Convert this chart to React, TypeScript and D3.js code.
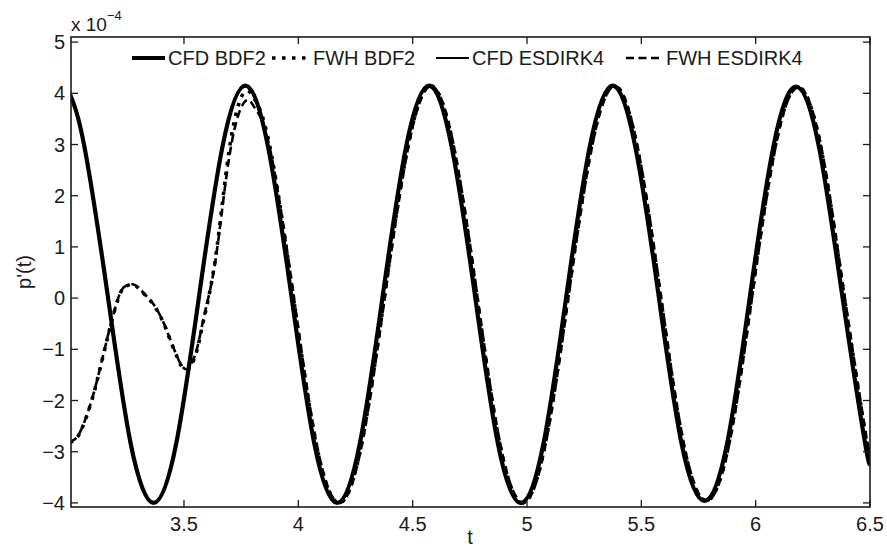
import React from 'react';
import * as d3 from 'd3';

const X_TICKS = [3.5, 4, 4.5, 5, 5.5, 6, 6.5];
const Y_TICKS = [-4, -3, -2, -1, 0, 1, 2, 3, 4, 5];

const CFD_T = [3.000, 3.065, 3.166, 3.266, 3.367, 3.467, 3.567, 3.668, 3.768, 3.868, 3.969, 4.069, 4.170, 4.270, 4.370, 4.471, 4.571, 4.671, 4.772, 4.872, 4.973, 5.073, 5.173, 5.274, 5.374, 5.474, 5.575, 5.675, 5.776, 5.876, 5.976, 6.077, 6.177, 6.277, 6.378, 6.478, 6.500];
const CFD_BDF2 = [4.00, 2.95, 0.07, -2.82, -4.00, -2.82, 0.07, 2.95, 4.15, 2.95, 0.07, -2.82, -4.00, -2.82, 0.07, 2.95, 4.15, 2.95, 0.07, -2.82, -4.00, -2.82, 0.07, 2.95, 4.15, 2.95, 0.07, -2.82, -3.96, -2.82, 0.07, 2.95, 4.13, 2.95, 0.07, -2.82, -3.15];
const CFD_ESDIRK4 = [3.99, 2.94, 0.06, -2.81, -3.99, -2.81, 0.06, 2.94, 4.13, 2.94, 0.06, -2.81, -3.99, -2.81, 0.06, 2.94, 4.13, 2.94, 0.06, -2.81, -3.99, -2.81, 0.06, 2.94, 4.13, 2.94, 0.06, -2.81, -3.95, -2.81, 0.06, 2.94, 4.12, 2.94, 0.06, -2.81, -3.12];

const FWH_BDF2_T = [3.000, 3.030, 3.060, 3.100, 3.140, 3.180, 3.220, 3.250, 3.275, 3.300, 3.330, 3.370, 3.410, 3.440, 3.470, 3.490, 3.510, 3.530, 3.555, 3.580, 3.600, 3.630, 3.660, 3.690, 3.720, 3.750, 3.778, 3.810, 3.876, 3.977, 4.077, 4.178, 4.278, 4.378, 4.479, 4.579, 4.679, 4.780, 4.880, 4.981, 5.081, 5.181, 5.282, 5.382, 5.482, 5.583, 5.683, 5.784, 5.884, 5.984, 6.085, 6.185, 6.285, 6.386, 6.486, 6.500];
const FWH_BDF2 = [-2.82, -2.74, -2.48, -1.95, -1.25, -0.52, 0.08, 0.24, 0.27, 0.20, 0.06, -0.15, -0.48, -0.82, -1.15, -1.33, -1.40, -1.32, -1.05, -0.55, -0.15, 0.55, 1.55, 2.65, 3.45, 3.92, 4.05, 3.88, 2.95, 0.07, -2.82, -4.00, -2.82, 0.07, 2.95, 4.15, 2.95, 0.07, -2.82, -4.00, -2.82, 0.07, 2.95, 4.15, 2.95, 0.07, -2.82, -3.96, -2.82, 0.07, 2.95, 4.13, 2.95, 0.07, -2.82, -3.00];

const FWH_ESDIRK4_T = [3.000, 3.030, 3.060, 3.100, 3.140, 3.180, 3.220, 3.250, 3.275, 3.300, 3.330, 3.370, 3.410, 3.440, 3.470, 3.490, 3.510, 3.530, 3.555, 3.580, 3.600, 3.630, 3.660, 3.690, 3.720, 3.750, 3.782, 3.815, 3.878, 3.979, 4.079, 4.180, 4.280, 4.380, 4.481, 4.581, 4.681, 4.782, 4.882, 4.983, 5.083, 5.183, 5.284, 5.384, 5.484, 5.585, 5.685, 5.786, 5.886, 5.986, 6.087, 6.187, 6.287, 6.388, 6.488, 6.500];
const FWH_ESDIRK4 = [-2.81, -2.73, -2.47, -1.94, -1.24, -0.51, 0.09, 0.25, 0.27, 0.21, 0.07, -0.14, -0.47, -0.81, -1.14, -1.32, -1.39, -1.30, -1.02, -0.52, -0.12, 0.52, 1.48, 2.52, 3.28, 3.72, 3.87, 3.68, 2.88, 0.07, -2.82, -4.00, -2.82, 0.07, 2.95, 4.14, 2.95, 0.07, -2.82, -4.00, -2.82, 0.07, 2.95, 4.14, 2.95, 0.07, -2.82, -3.96, -2.82, 0.07, 2.95, 4.12, 2.95, 0.07, -2.82, -2.92];

const LEGEND = ['CFD BDF2', 'FWH BDF2', 'CFD ESDIRK4', 'FWH ESDIRK4'];

const W = 887, H = 549;
const L = 71, R = 870, T = 37, B = 507;
const FONT = '"Liberation Sans", Arial, Helvetica, sans-serif';

const STYLES = [
  { w: 4.2, dash: undefined as string | undefined },
  { w: 3.6, dash: '3.5,6.5' },
  { w: 1.8, dash: undefined as string | undefined },
  { w: 2.6, dash: '8,4.5' },
];

export default function App() {
  const x = d3.scaleLinear().domain([3.006, 6.5]).range([L, R]);
  const y = d3.scaleLinear().domain([-4.08, 5.1]).range([B, T]);
  const line = d3.line<[number, number]>().x(d => x(d[0])).y(d => y(d[1])).curve(d3.curveNatural);
  const series: [number, number][][] = [
    CFD_T.map((t, i) => [t, CFD_BDF2[i]]),
    FWH_BDF2_T.map((t, i) => [t, FWH_BDF2[i]]),
    CFD_T.map((t, i) => [t, CFD_ESDIRK4[i]]),
    FWH_ESDIRK4_T.map((t, i) => [t, FWH_ESDIRK4[i]]),
  ];
  const legendX = [132, 272, 436, 626];
  const legendLen = [33, 38, 33, 37];
  const ly = 58;
  const tickLen = 7;
  return (
    <svg width={W} height={H} style={{ position: 'absolute', left: 0, top: 0, background: '#fff' }} fontFamily={FONT}>
      <defs>
        <clipPath id="plotclip"><rect x={L} y={T} width={R - L} height={B - T} /></clipPath>
      </defs>
      <g clipPath="url(#plotclip)">
        {series.map((s, i) => (
          <path key={i} d={line(s) || ''} fill="none" stroke="#000" strokeWidth={STYLES[i].w}
            strokeDasharray={STYLES[i].dash} strokeLinejoin="round" />
        ))}
      </g>
      <rect x={L} y={T} width={R - L} height={B - T} fill="none" stroke="#1a1a1a" strokeWidth={1.6} />
      {X_TICKS.map(v => (
        <g key={'x' + v}>
          <line x1={x(v)} x2={x(v)} y1={B} y2={B - tickLen} stroke="#1a1a1a" strokeWidth={1.3} />
          <line x1={x(v)} x2={x(v)} y1={T} y2={T + tickLen} stroke="#1a1a1a" strokeWidth={1.3} />
          <text x={x(v)} y={531} textAnchor="middle" fontSize={20} fill="#1a1a1a">{String(v)}</text>
        </g>
      ))}
      {Y_TICKS.map(v => (
        <g key={'y' + v}>
          <line x1={L} x2={L + tickLen} y1={y(v)} y2={y(v)} stroke="#1a1a1a" strokeWidth={1.3} />
          <line x1={R} x2={R - tickLen} y1={y(v)} y2={y(v)} stroke="#1a1a1a" strokeWidth={1.3} />
          <text x={65} y={y(v) + 7} textAnchor="end" fontSize={20} fill="#1a1a1a">{v < 0 ? '\u2212' + Math.abs(v) : String(v)}</text>
        </g>
      ))}
      <text x={71} y={31} fontSize={19} fill="#1a1a1a">x 10<tspan dy={-11} fontSize={13}>{'\u2212'}4</tspan></text>
      <text x={470} y={544} textAnchor="middle" fontSize={20} fill="#1a1a1a">t</text>
      <text transform="translate(31,272) rotate(-90)" textAnchor="middle" fontSize={20} fill="#1a1a1a">p'(t)</text>
      {LEGEND.map((name, i) => (
        <g key={name}>
          <line x1={legendX[i]} x2={legendX[i] + legendLen[i]} y1={ly} y2={ly} stroke="#000" strokeWidth={STYLES[i].w} strokeDasharray={STYLES[i].dash} />
          <text x={legendX[i] + legendLen[i] + 3} y={ly + 7} fontSize={20} fill="#1a1a1a">{name}</text>
        </g>
      ))}
    </svg>
  );
}
